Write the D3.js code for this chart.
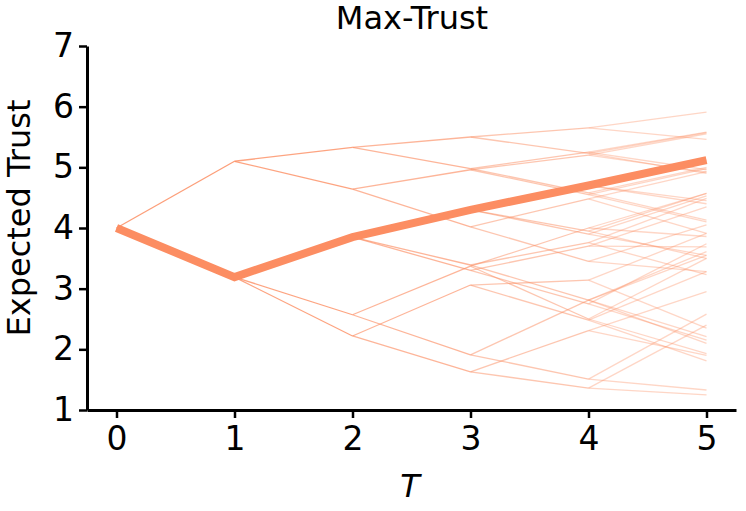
<!DOCTYPE html>
<html>
<head>
<meta charset="utf-8">
<script src="https://cdn.jsdelivr.net/npm/d3@7"></script>
<style>
  html, body { margin: 0; padding: 0; background: #fff; }
  svg { display: block; font-family: "DejaVu Sans", sans-serif; }
</style>
</head>
<body>
<svg id="chart" width="746" height="511"></svg>
<script>
// ---- data ----
const tickX = [0, 1, 2, 3, 4, 5];
const tickY = [1, 2, 3, 4, 5, 6, 7];
const level0 = [4.00];
const level1 = [5.10, 3.19];
const parent1 = [0, 0];
const level2 = [5.33, 4.64, 3.85, 2.57, 2.22];
const parent2 = [0, 0, 1, 1, 1];
const level3 = [5.50, 4.98, 4.96, 4.02, 4.30, 3.39, 3.30, 3.37, 1.91, 3.06, 1.63];
const parent3 = [0, 0, 1, 1, 2, 2, 2, 3, 3, 4, 4];
const level4 = [5.65, 5.23, 5.25, 4.58, 5.20, 4.55, 4.48, 3.45, 4.70, 3.95, 3.90,
                3.76, 2.81, 3.70, 2.75, 4.00, 2.50, 2.81, 1.51, 3.14, 2.48, 2.31, 1.36];
const parent4 = [0, 0, 1, 1, 2, 2, 3, 3, 4, 4, 4, 5, 5, 6, 6, 7, 7, 8, 8, 9, 9, 10, 10];
const level5 = [5.91, 5.46, 5.57, 4.90, 5.58, 4.96, 5.00, 4.13, 5.55, 4.92, 4.98, 4.10,
                4.93, 3.91, 4.05, 3.28, 5.12, 4.45, 4.40, 4.57, 3.50, 4.53, 3.55, 4.49, 3.23,
                3.61, 2.21, 4.35, 3.69, 3.74, 2.15, 4.57, 3.86, 3.50, 1.93, 3.55, 2.10,
                2.58, 1.33, 3.91, 2.35, 3.28, 1.81, 2.95, 1.90, 2.40, 1.25];
const parent5 = [0, 0, 1, 1, 2, 2, 3, 3, 4, 4, 5, 5, 6, 6, 7, 7, 8, 8, 8, 9, 9, 10, 10,
                 11, 11, 12, 12, 13, 13, 14, 14, 15, 15, 16, 16, 17, 17, 18, 18, 19, 19,
                 20, 20, 21, 21, 22, 22];
const expectedTrust = [4.00, 3.19, 3.85, 4.30, 4.70, 5.12];

const levels = [level0, level1, level2, level3, level4, level5];
const parents = [null, parent1, parent2, parent3, parent4, parent5];

// ---- layout ----
const color = "#fc8d62";
const stepOpacity = [0.85, 0.8, 0.65, 0.5, 0.36];

const svg = d3.select("#chart");
const x = d3.scaleLinear().domain([-0.25, 5.25]).range([87, 736]);
const y = d3.scaleLinear().domain([1, 7]).range([410, 46]);

// tree segments
const segs = [];
for (let t = 1; t < levels.length; t++) {
  levels[t].forEach((v, i) => {
    segs.push({ t0: t - 1, v0: levels[t - 1][parents[t][i]], t1: t, v1: v });
  });
}
svg.append("g").selectAll("line").data(segs).join("line")
  .attr("x1", d => x(d.t0)).attr("y1", d => y(d.v0))
  .attr("x2", d => x(d.t1)).attr("y2", d => y(d.v1))
  .attr("stroke", color).attr("stroke-width", 1.3)
  .attr("stroke-opacity", d => stepOpacity[d.t0]);

// thick expected-trust line
svg.append("path")
  .datum(expectedTrust)
  .attr("fill", "none").attr("stroke", color).attr("stroke-width", 8)
  .attr("d", d3.line().x((d, i) => x(tickX[i])).y(d => y(d)));

// axes
const xAxis = svg.append("g").attr("transform", "translate(0,410)")
  .call(d3.axisBottom(x).tickValues(tickX).tickFormat(d3.format("d")).tickSize(8).tickSizeOuter(0).tickPadding(9));
const yAxis = svg.append("g").attr("transform", "translate(87,0)")
  .call(d3.axisLeft(y).tickValues(tickY).tickFormat(d3.format("d")).tickSize(8).tickSizeOuter(0).tickPadding(5));
[xAxis, yAxis].forEach(a => {
  a.select(".domain").attr("stroke", "#000").attr("stroke-width", 3);
  a.selectAll(".tick line").attr("stroke", "#000").attr("stroke-width", 2.5);
  a.selectAll(".tick text").attr("fill", "#000").style("font-size", "33px")
    .style("font-family", "DejaVu Sans, sans-serif");
});

// labels
svg.append("text").attr("x", 412).attr("y", 29).attr("text-anchor", "middle")
  .style("font-size", "32px").text("Max-Trust");
svg.append("text").attr("transform", "translate(30,218) rotate(-90)").attr("text-anchor", "middle")
  .style("font-size", "32px").text("Expected Trust");
svg.append("text").attr("x", 410).attr("y", 497).attr("text-anchor", "middle")
  .style("font-size", "32px").style("font-style", "italic").text("T");
</script>
</body>
</html>
